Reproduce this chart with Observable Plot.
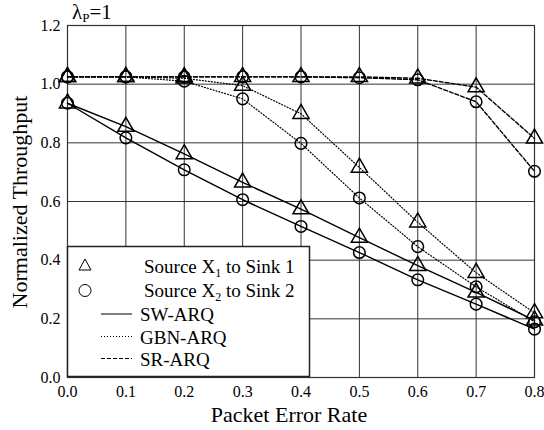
<!DOCTYPE html>
<html><head><meta charset="utf-8">
<script src="https://cdn.jsdelivr.net/npm/d3@7"></script>
<script src="https://cdn.jsdelivr.net/npm/@observablehq/plot@0.6"></script>
<style>
body{margin:0;background:#fff;}
#wrap{position:relative;width:544px;height:430px;font-family:"Liberation Serif","Times New Roman",serif;}
#overlay{position:absolute;left:0;top:0;}
</style></head>
<body><div id="wrap"></div>
<script>
const per = [0, 0.1, 0.2, 0.3, 0.4, 0.5, 0.6, 0.7, 0.8];
const swX1 = [0.935, 0.855, 0.762, 0.665, 0.574, 0.477, 0.381, 0.29, 0.195];
const swX2 = [0.935, 0.817, 0.708, 0.606, 0.515, 0.426, 0.333, 0.25, 0.165];
const gbnX1 = [1.025, 1.025, 1.02, 0.995, 0.899, 0.716, 0.529, 0.357, 0.22];
const gbnX2 = [1.025, 1.025, 1.01, 0.95, 0.798, 0.612, 0.446, 0.309, 0.19];
const srX1 = [1.025, 1.025, 1.025, 1.025, 1.025, 1.025, 1.02, 0.99, 0.815];
const srX2 = [1.025, 1.025, 1.025, 1.025, 1.025, 1.022, 1.015, 0.94, 0.703];
const xTicks = [0, 0.1, 0.2, 0.3, 0.4, 0.5, 0.6, 0.7, 0.8];
const yTicks = [0, 0.2, 0.4, 0.6, 0.8, 1.0, 1.2];
const xTitle = "Packet Error Rate";
const yTitle = "Normalized Throughput";

const series = [
  {proto: "SW", src: 1, vals: swX1, dash: null},
  {proto: "SW", src: 2, vals: swX2, dash: null},
  {proto: "GBN", src: 1, vals: gbnX1, dash: "1,2"},
  {proto: "GBN", src: 2, vals: gbnX2, dash: "1,2"},
  {proto: "SR", src: 1, vals: srX1, dash: "4,2"},
  {proto: "SR", src: 2, vals: srX2, dash: "4,2"}
];
const rows = series.map(s => per.map((p, i) => ({x: p, y: s.vals[i], src: s.src, proto: s.proto})));

const marks = [
  Plot.gridX(xTicks, {stroke: "#333", strokeOpacity: 1, strokeWidth: 1}),
  Plot.gridY(yTicks, {stroke: "#333", strokeOpacity: 1, strokeWidth: 1}),
  Plot.frame({stroke: "#333", strokeWidth: 1.2})
];
series.forEach((s, k) => {
  marks.push(Plot.line(rows[k], {x: "x", y: "y", stroke: "#000", strokeWidth: s.dash === "1,2" ? 1.2 : 1.4, strokeDasharray: s.dash}));
});
series.forEach((s, k) => {
  marks.push(Plot.dot(rows[k], {x: "x", y: "y", symbol: s.src === 1 ? "triangle" : "circle", r: s.src === 1 ? 6 : 5.8, stroke: "#000", strokeWidth: 1.5, fill: "none"}));
});
marks.push(Plot.axisX(xTicks, {tickFormat: d3.format(".1f"), tickSize: 0, tickPadding: 8, fontSize: 16, label: null}));
marks.push(Plot.axisY(yTicks, {tickFormat: d3.format(".1f"), tickSize: 0, tickPadding: 7, fontSize: 16, label: null}));

const chart = Plot.plot({
  width: 544, height: 430,
  marginLeft: 67, marginRight: 10, marginTop: 25, marginBottom: 53,
  style: {fontFamily: "'Liberation Serif', 'Times New Roman', serif", fontSize: "16px", color: "#000", background: "#fff"},
  x: {domain: [0, 0.8]},
  y: {domain: [0, 1.2]},
  marks
});
const wrap = document.getElementById("wrap");
wrap.appendChild(chart);

const ns = "http://www.w3.org/2000/svg";
const ov = document.createElementNS(ns, "svg");
ov.setAttribute("id", "overlay");
ov.setAttribute("width", 544); ov.setAttribute("height", 430);
ov.setAttribute("font-family", "'Liberation Serif', 'Times New Roman', serif");
function txt(x, y, parts, size, extra) {
  const t = document.createElementNS(ns, "text");
  t.setAttribute("x", x); t.setAttribute("y", y); t.setAttribute("font-size", size);
  if (extra) for (const k in extra) t.setAttribute(k, extra[k]);
  parts.forEach(p => {
    const ts = document.createElementNS(ns, "tspan");
    ts.textContent = p.s;
    if (p.size) ts.setAttribute("font-size", p.size);
    if (p.dy) ts.setAttribute("dy", p.dy);
    t.appendChild(ts);
  });
  ov.appendChild(t);
  return t;
}
// titles
txt(289, 422, [{s: xTitle}], 22, {"text-anchor": "middle"});
txt(27, 202, [{s: yTitle}], 22, {"text-anchor": "middle", transform: "rotate(-90,27,202)"});
txt(72, 19, [{s: "λ"}, {s: "P", size: 13, dy: 3}, {s: "=1", dy: -3}], 21);

// legend
const legendItems = [
  {kind: "triangle", label: [{s: "Source X"}, {s: "1", size: 12, dy: 4}, {s: " to Sink 1", dy: -4}]},
  {kind: "circle", label: [{s: "Source X"}, {s: "2", size: 12, dy: 4}, {s: " to Sink 2", dy: -4}]},
  {kind: "line", dash: null, label: [{s: "SW-ARQ"}]},
  {kind: "line", dash: "1,2", label: [{s: "GBN-ARQ"}]},
  {kind: "line", dash: "4,2", label: [{s: "SR-ARQ"}]}
];
const box = document.createElementNS(ns, "rect");
box.setAttribute("x", 67.5); box.setAttribute("y", 246.5); box.setAttribute("width", 242); box.setAttribute("height", 130);
box.setAttribute("fill", "#fff"); box.setAttribute("stroke", "#222"); box.setAttribute("stroke-width", 1.5);
ov.appendChild(box);
const markY = [265, 290.5, 314, 336.5, 358.5];
const baseY = [272.5, 297, 321, 343.5, 366];
legendItems.forEach((it, i) => {
  const y = markY[i];
  if (it.kind === "triangle") {
    const p = document.createElementNS(ns, "path");
    p.setAttribute("d", `M85,${y-6} L91,${y+5} L79,${y+5} Z`);
    p.setAttribute("fill", "none"); p.setAttribute("stroke", "#000"); p.setAttribute("stroke-width", 1);
    ov.appendChild(p);
  } else if (it.kind === "circle") {
    const c = document.createElementNS(ns, "circle");
    c.setAttribute("cx", 85); c.setAttribute("cy", y); c.setAttribute("r", 6);
    c.setAttribute("fill", "none"); c.setAttribute("stroke", "#000"); c.setAttribute("stroke-width", 1);
    ov.appendChild(c);
  } else {
    const l = document.createElementNS(ns, "line");
    l.setAttribute("x1", 101); l.setAttribute("x2", 132); l.setAttribute("y1", y); l.setAttribute("y2", y);
    l.setAttribute("stroke", "#000"); l.setAttribute("stroke-width", 1);
    if (it.dash) l.setAttribute("stroke-dasharray", it.dash);
    ov.appendChild(l);
  }
  txt(it.kind === "line" ? 140 : 144, baseY[i], it.label, 19);
});
wrap.appendChild(ov);
</script></body></html>
